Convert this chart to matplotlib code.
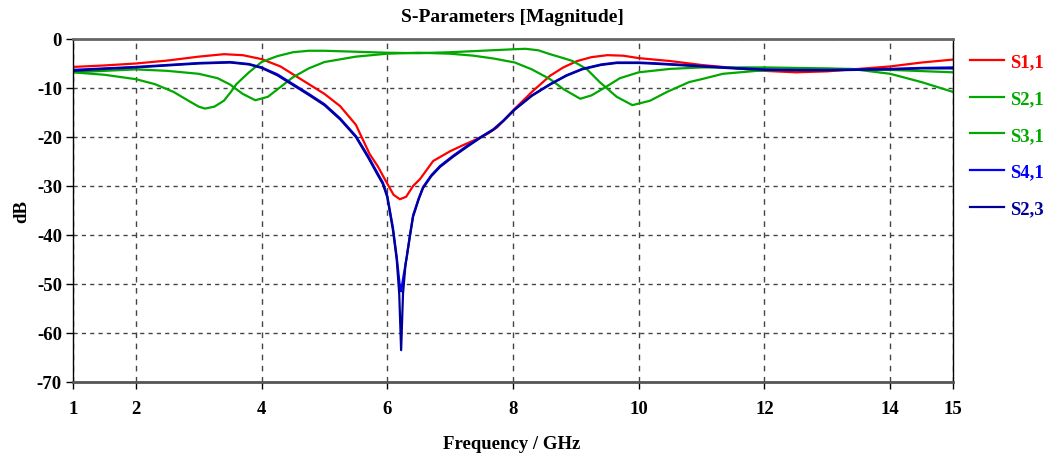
import matplotlib
matplotlib.use("Agg")
import matplotlib.pyplot as plt

# ---- data ----
f_s11 = [1, 1.5, 2, 2.5, 3, 3.4, 3.7, 4, 4.3, 4.6, 5.0, 5.25, 5.5, 5.72, 5.85, 5.96,
         6.1, 6.2, 6.3, 6.36, 6.41, 6.52, 6.73, 7.0, 7.2, 7.43, 7.6, 7.75, 8.0, 8.3,
         8.59, 8.8, 9.02, 9.25, 9.5, 9.75, 10.0, 10.5, 11.0, 11.5, 12.0, 12.5, 13.0,
         13.5, 14.0, 14.5, 15]
s11 = [-5.7, -5.4, -5.0, -4.4, -3.6, -3.1, -3.3, -4.1, -5.6, -8.0, -11.2, -13.7, -17.5,
       -23.5, -26.0, -28.6, -31.8, -32.7, -32.2, -31.0, -30.0, -28.6, -24.9, -22.9,
       -21.7, -20.4, -19.3, -18.0, -14.6, -10.8, -7.5, -5.8, -4.5, -3.7, -3.3, -3.4,
       -3.9, -4.5, -5.3, -5.9, -6.5, -6.8, -6.6, -6.1, -5.6, -4.8, -4.2]

f_s21 = [1, 1.5, 2, 2.3, 2.6, 2.85, 3.0, 3.1, 3.25, 3.4, 3.5, 3.6, 3.8, 4.0, 4.25, 4.5,
         4.75, 5.0, 5.5, 6.0, 6.5, 7.0, 7.5, 8.0, 8.2, 8.4, 8.59, 8.8, 8.95, 9.17, 9.38,
         9.65, 9.9, 10.18, 10.45, 10.8, 11.0, 11.34, 11.88, 12.5, 13.0, 13.5, 14.0,
         14.5, 15]
s21 = [-6.8, -7.3, -8.2, -9.2, -10.8, -12.7, -13.8, -14.2, -13.8, -12.6, -11.0, -9.2,
       -6.8, -4.7, -3.5, -2.7, -2.4, -2.4, -2.6, -2.8, -2.9, -2.7, -2.4, -2.1, -2.0,
       -2.3, -3.1, -3.9, -4.5, -6.1, -8.8, -11.8, -13.5, -12.6, -10.8, -8.8, -8.2,
       -7.1, -6.5, -6.2, -6.1, -6.3, -7.1, -8.8, -10.8]

f_s31 = [1, 1.5, 2, 2.5, 3, 3.3, 3.5, 3.7, 3.9, 4.1, 4.3, 4.5, 4.75, 5.0, 5.5, 6.0, 6.5,
         7.0, 7.37, 7.7, 8.03, 8.3, 8.59, 8.8, 9.07, 9.25, 9.45, 9.7, 10.0, 10.5, 11.0,
         12.0, 13.0, 14.0, 15]
s31 = [-6.8, -6.5, -6.2, -6.5, -7.1, -8.0, -9.3, -11.2, -12.5, -11.8, -9.8, -7.8, -6.0,
       -4.7, -3.6, -3.0, -2.8, -3.0, -3.4, -4.0, -4.8, -6.2, -8.2, -10.2, -12.2, -11.5,
       -10.0, -8.0, -6.8, -6.1, -5.8, -5.8, -6.0, -6.3, -6.8]

f_s41 = [1, 1.5, 2, 2.5, 3, 3.5, 3.8, 4, 4.25, 4.5, 4.75, 5, 5.25, 5.5, 5.7, 5.85, 5.93,
         6.0, 6.09, 6.15, 6.2, 6.22, 6.25, 6.31, 6.36, 6.41, 6.5, 6.57, 6.7, 6.84, 7.05,
         7.27, 7.5, 7.69, 7.85, 8.03, 8.3, 8.59, 8.85, 9.1, 9.4, 9.65, 10.0, 10.18,
         10.6, 11.0, 11.5, 12.0, 12.5, 13.0, 13.5, 14.0, 14.5, 15]
s41 = [-6.3, -6.0, -5.7, -5.3, -4.9, -4.7, -5.1, -5.8, -7.2, -9.2, -11.2, -13.3, -16.2,
       -19.8, -24.0, -27.5, -29.3, -32.0, -38.5, -44.5, -50.5, -51.5, -49.0, -44.5,
       -40.0, -36.0, -32.5, -30.2, -27.8, -25.9, -23.8, -21.8, -19.9, -18.4, -16.6,
       -14.3, -11.5, -9.2, -7.4, -6.1, -5.2, -4.8, -4.8, -4.9, -5.2, -5.5, -5.9, -6.2,
       -6.3, -6.3, -6.2, -6.1, -5.9, -5.8]

f_s23 = [1, 1.5, 2, 2.5, 3, 3.5, 3.8, 4, 4.25, 4.5, 4.75, 5, 5.25, 5.5, 5.7, 5.85, 5.93,
         6.0, 6.09, 6.15, 6.19, 6.22, 6.25, 6.29, 6.36, 6.41, 6.5, 6.57, 6.7, 6.84, 7.05,
         7.27, 7.5, 7.69, 7.85, 8.03, 8.3, 8.59, 8.85, 9.1, 9.4, 9.65, 10.0, 10.18,
         10.6, 11.0, 11.5, 12.0, 12.5, 13.0, 13.5, 14.0, 14.5, 15]
s23 = [-6.5, -6.1, -5.8, -5.4, -5.0, -4.8, -5.2, -5.9, -7.4, -9.4, -11.4, -13.5, -16.4,
       -20.0, -24.3, -27.8, -29.6, -32.3, -39.0, -45.0, -52.0, -63.5, -52.0, -46.0,
       -40.3, -36.3, -32.7, -30.4, -28.0, -26.1, -24.0, -22.0, -20.0, -18.5, -16.7,
       -14.4, -11.6, -9.3, -7.5, -6.2, -5.3, -4.9, -4.9, -5.0, -5.3, -5.6, -6.0, -6.3,
       -6.4, -6.4, -6.3, -6.2, -6.0, -6.0]

labels = ["S1,1", "S2,1", "S3,1", "S4,1", "S2,3"]
colors = ["#FF0000", "#00A800", "#00A800", "#0000FF", "#000099"]
xticks = [1, 2, 4, 6, 8, 10, 12, 14, 15]
yticks = [0, -10, -20, -30, -40, -50, -60, -70]

# ---- figure ----
plt.rcParams['font.family'] = ['Liberation Serif', 'DejaVu Serif']
plt.rcParams['font.weight'] = 'bold'
plt.rcParams['axes.unicode_minus'] = False

fig = plt.figure(figsize=(10.51, 4.64), dpi=100)
ax = fig.add_axes([73/1051, 1 - 383/464, (953 - 73)/1051, (383 - 40)/464])

series = [(f_s11, s11), (f_s21, s21), (f_s31, s31), (f_s41, s41), (f_s23, s23)]
for (fx, fy), lab, col in zip(series, labels, colors):
    ax.plot(fx, fy, color=col, lw=1.6, label=lab)

ax.set_xlim(1, 15)
ax.set_ylim(-70, 0)
ax.set_xticks(xticks)
ax.set_yticks(yticks)
ax.tick_params(axis='both', direction='out', length=5, width=1, labelsize=13.5, color='black')
ax.tick_params(axis='x', pad=8)
ax.tick_params(axis='y', pad=3)
for lab in ax.get_xticklabels() + ax.get_yticklabels():
    lab.set_fontweight('bold')

ax.xaxis.grid(True, color='#444444', linestyle=(0, (4, 4)), lw=1)
ax.yaxis.grid(True, color='#444444', linestyle=(0, (3, 3)), lw=1)
ax.set_axisbelow(True)

ax.spines['top'].set_color('#666666')
ax.spines['top'].set_linewidth(2)
ax.spines['bottom'].set_color('#555555')
ax.spines['bottom'].set_linewidth(2)
ax.spines['left'].set_color('black')
ax.spines['left'].set_linewidth(1)
ax.spines['right'].set_color('black')
ax.spines['right'].set_linewidth(1)

fig.text(512/1051, 1 - 17/464, "S-Parameters [Magnitude]", ha='center', va='center',
         fontsize=14, fontweight='bold')
fig.text(512/1051, 1 - 445/464, "Frequency / GHz", ha='center', va='center',
         fontsize=13.5, fontweight='bold')
fig.text(22/1051, 1 - 212/464, "dB", ha='center', va='center', rotation=90,
         fontsize=13.5, fontweight='bold')

leg = ax.legend(loc='upper left', bbox_to_anchor=(1.0, 1.008), frameon=False,
                handlelength=1.8, handletextpad=0.35, labelspacing=1.05,
                prop={'size': 13.5, 'weight': 'bold'})
for txt, col in zip(leg.get_texts(), colors):
    txt.set_color(col)

fig.savefig("out.png", dpi=100)
